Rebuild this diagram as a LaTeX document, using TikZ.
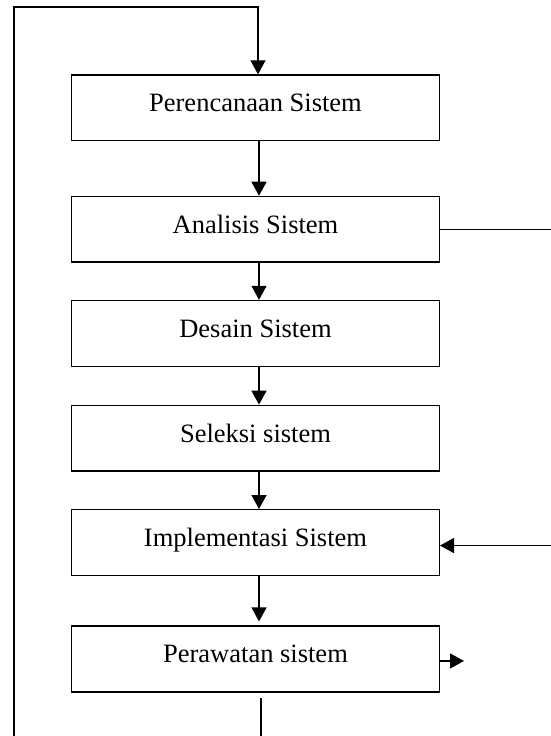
\documentclass[tikz,border=0pt]{standalone}
\usepackage{fontspec}
\setmainfont{Liberation Serif}
\usetikzlibrary{positioning}
\usetikzlibrary{arrows.meta}
\tikzset{stage box/.style={
          draw, rectangle, line width=1.4bp, inner sep=0pt,
          minimum width=367.6bp, minimum height=65.7bp,
          text height=18bp, text depth=10.3bp, % text sits a little above the middle of the box
          font=\fontsize{26.5bp}{31bp}\selectfont
          },
        flow/.style={line width=1.4bp, -{Triangle[length=14bp, width=15bp]}},
}

\begin{document}
\begin{tikzpicture}[x=1bp, y=-1bp]
      % page is the cut-out of a bigger figure, loops run off the edges
      \useasboundingbox (0,0) rectangle (551,736);
      \clip (0,0) rectangle (551,736);

      % STAGES
      \node[stage box] (perencanaan) at (255.5,107.85) {Perencanaan Sistem};
      \node[stage box, below=54.3bp of perencanaan] (analisis) {Analisis Sistem};
      \node[stage box, below=37bp of analisis] (desain) {Desain Sistem};
      \node[stage box, below=37.7bp of desain] (seleksi) {Seleksi sistem};
      \node[stage box, below=37.3bp of seleksi] (implementasi) {Implementasi Sistem};
      \node[stage box, below=49.3bp of implementasi] (perawatan) {Perawatan sistem};

      % DOWNWARD FLOW
      \draw[flow] ([xshift=3.5bp]perencanaan.south) -- ([xshift=3.5bp]analisis.north);
      \draw[flow] ([xshift=3.5bp]analisis.south) -- ([xshift=3.5bp]desain.north);
      \draw[flow] ([xshift=3.5bp]desain.south) -- ([xshift=3.5bp]seleksi.north);
      \draw[flow] ([xshift=3.5bp]seleksi.south) -- ([xshift=3.5bp]implementasi.north);
      \draw[flow] ([xshift=3.5bp]implementasi.south) -- ([xshift=3.5bp,yshift=4bp]perawatan.north);

      % FEEDBACK LOOPS
      \coordinate (looptop) at (14,7);
      \draw[flow] ([xshift=5.5bp,yshift=-5bp]perawatan.south) -- ++(0,80) -| (looptop) -| ([xshift=2.5bp]perencanaan.north);
      \draw[flow] (analisis.east) -- ++(130,0) |- ([yshift=-3bp]implementasi.east);

      % OUT OF MAINTENANCE
      \coordinate (keluar) at ([xshift=24bp,yshift=-2bp]perawatan.east);
      \draw[flow] (perawatan.east |- keluar) -- (keluar);
\end{tikzpicture}
\end{document}
